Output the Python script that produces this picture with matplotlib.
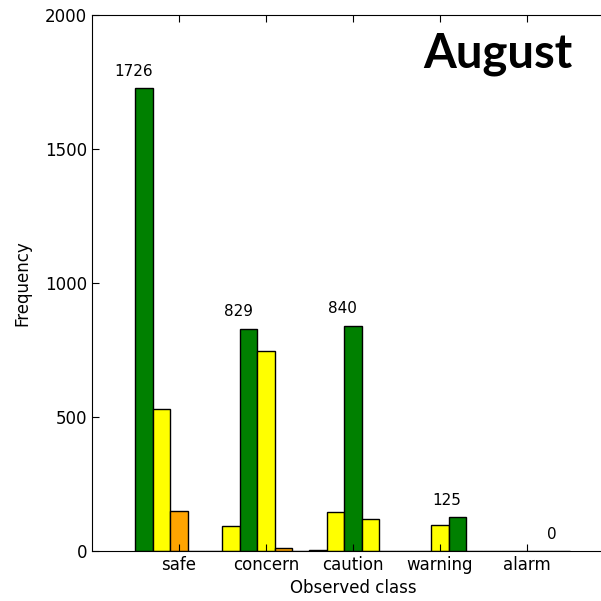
import matplotlib.pyplot as plt
import numpy as np

classes = ["safe", "concern", "caution", "warning", "alarm"]
month = "August"

# counts per predicted class, indexed by observed class
pred_safe = [1726, 93, 2, 0, 0]
pred_concern = [530, 829, 146, 0, 0]
pred_caution = [149, 746, 840, 97, 0]
pred_warning = [0, 11, 119, 125, 0]
pred_alarm = [0, 0, 0, 0, 0]

counts = [pred_safe, pred_concern, pred_caution, pred_warning, pred_alarm]
# colour by distance between observed and predicted class
dist_colors = ["green", "yellow", "orange", "red", "darkred"]

fig = plt.figure(figsize=(6.01, 6.01), dpi=100)
ax = fig.add_axes([0.153, 0.0832, 0.8686, 0.892])

x = np.arange(len(classes))
width = 0.2
for k, vals in enumerate(counts):
    for i, v in enumerate(vals):
        c = dist_colors[abs(i - k)]
        left = x[i] - 0.5 + width * k
        ax.bar(left, v, width, align="edge",
               color=c, edgecolor="black", linewidth=1)
        if i == k:
            ax.text(left - 0.02, v + 35, str(v),
                    ha="center", va="bottom", fontsize=11)

ax.set_xlim(-1, 5)
ax.set_ylim(0, 2000)
ax.set_xticks(x)
ax.set_xticklabels(classes, fontsize=12)
ax.set_yticks([0, 500, 1000, 1500, 2000])
ax.tick_params(axis="y", labelsize=12)
ax.tick_params(direction="in", top=True, right=True, length=5)
ax.set_xlabel("Observed class", fontsize=12)
ax.set_ylabel("Frequency", fontsize=12, labelpad=10)

ax.text(0.92, 0.902, month, transform=ax.transAxes, ha="right", va="baseline",
        fontsize=34, fontweight="bold", family=["Lato", "DejaVu Sans"])

fig.savefig("out.png", dpi=100)
